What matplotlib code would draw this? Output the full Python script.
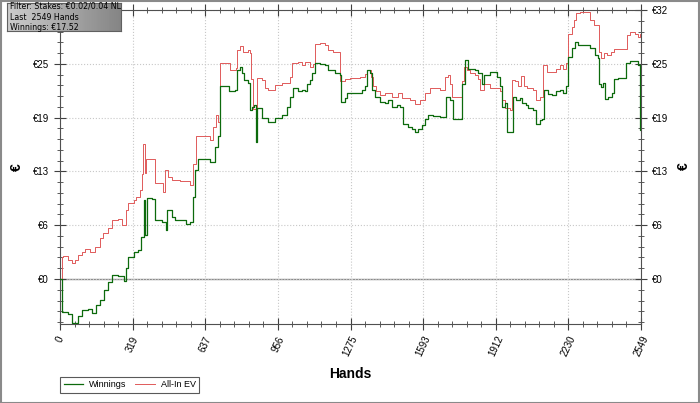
import numpy as np
import matplotlib
matplotlib.use('Agg')
import matplotlib.pyplot as plt
from matplotlib.ticker import FixedLocator, MultipleLocator
from matplotlib.patches import Rectangle

# Cumulative winnings (step points: hand number, euros)
win_hands = [0, 7, 35, 53, 79, 97, 123, 140, 158, 175, 193, 211, 228, 254, 281, 290, 298,
             325, 342, 355, 368, 375, 382, 404, 417, 447, 465, 469, 491, 505, 553, 570, 583,
             592, 605, 658, 680, 693, 702, 741, 768, 776, 790, 798, 807, 825, 834, 842, 851,
             858, 864, 886, 913, 943, 974, 996, 1009, 1022, 1044, 1062, 1075, 1084, 1097,
             1106, 1119, 1141, 1163, 1176, 1206, 1228, 1233, 1250, 1259, 1325, 1338, 1347,
             1360, 1369, 1382, 1404, 1426, 1439, 1456, 1478, 1492, 1505, 1527, 1544, 1557,
             1571, 1588, 1601, 1614, 1636, 1667, 1693, 1711, 1724, 1755, 1764, 1777, 1790,
             1821, 1834, 1851, 1860, 1886, 1917, 1930, 1939, 1952, 1961, 1987, 2000, 2018,
             2027, 2044, 2053, 2075, 2088, 2106, 2115, 2123, 2141, 2158, 2176, 2194, 2207,
             2220, 2229, 2246, 2259, 2273, 2325, 2347, 2360, 2365, 2373, 2382, 2391, 2404,
             2422, 2430, 2448, 2483, 2501, 2536, 2545, 2549]
win_vals = [0.0, -3.9, -4.1, -5.2, -4.3, -3.65, -3.5, -4.0, -3.1, -2.5, -1.3, -0.3, 0.5, 0.3,
            -0.2, 1.3, 2.6, 3.2, 3.4, 5.0, 9.3, 5.2, 9.5, 9.4, 6.9, 6.7, 5.8, 8.1, 7.3, 6.9,
            6.5, 6.75, 9.7, 12.8, 14.1, 13.8, 15.6, 16.8, 22.7, 22.1, 22.3, 24.6, 25.0, 24.3,
            23.4, 23.1, 19.9, 20.3, 20.5, 16.2, 20.1, 19.0, 18.5, 19.0, 19.3, 20.3, 21.5,
            22.5, 22.1, 22.3, 22.1, 23.0, 23.4, 24.3, 25.4, 25.3, 25.2, 24.6, 24.3, 24.0,
            20.9, 21.3, 21.9, 22.3, 22.7, 24.6, 24.3, 22.3, 21.5, 20.9, 20.7, 21.1, 20.3,
            20.5, 20.3, 18.3, 17.9, 17.7, 17.3, 17.7, 18.1, 18.9, 19.3, 19.2, 19.1, 21.5,
            21.1, 18.9, 18.8, 23.0, 25.8, 24.8, 24.6, 24.3, 23.0, 24.0, 24.4, 23.8, 22.8,
            20.3, 20.7, 17.3, 21.5, 21.1, 21.3, 20.7, 20.5, 20.1, 19.9, 18.3, 18.7, 18.9,
            22.3, 21.8, 21.7, 22.1, 22.3, 21.9, 22.7, 26.2, 27.2, 27.95, 27.6, 27.2, 26.4,
            26.0, 23.0, 22.6, 23.1, 21.2, 21.4, 21.9, 23.6, 23.7, 25.4, 25.7, 25.2, 17.52,
            17.52]

# All-in adjusted EV
ev_hands = [0, 7, 13, 35, 53, 66, 79, 97, 110, 132, 154, 175, 189, 211, 228, 254, 272, 290,
            298, 325, 333, 351, 360, 364, 373, 377, 417, 452, 461, 474, 491, 526, 570, 583,
            596, 658, 671, 684, 693, 702, 746, 772, 776, 790, 803, 825, 834, 838, 847, 864,
            886, 900, 913, 943, 974, 1009, 1018, 1044, 1062, 1075, 1097, 1110, 1119, 1141,
            1163, 1176, 1197, 1228, 1250, 1272, 1316, 1338, 1347, 1364, 1373, 1386, 1404,
            1426, 1456, 1483, 1500, 1536, 1557, 1579, 1601, 1623, 1667, 1689, 1702, 1711,
            1720, 1764, 1772, 1786, 1799, 1821, 1834, 1843, 1860, 1886, 1930, 1939, 1952,
            1974, 1983, 1996, 2009, 2022, 2036, 2049, 2075, 2088, 2106, 2119, 2136, 2176,
            2194, 2207, 2220, 2229, 2246, 2255, 2264, 2281, 2325, 2343, 2365, 2373, 2387,
            2400, 2417, 2430, 2487, 2501, 2523, 2536, 2545, 2549]
ev_vals = [0.0, 2.6, 2.7, 2.2, 1.85, 2.2, 2.8, 3.2, 3.5, 3.2, 3.8, 4.8, 5.4, 6.0, 6.9, 7.1,
           6.4, 8.1, 8.9, 9.3, 9.7, 10.5, 12.4, 15.9, 12.5, 14.1, 11.3, 10.3, 12.8, 12.0,
           11.7, 11.5, 11.1, 13.6, 16.8, 16.4, 17.9, 19.3, 18.5, 25.4, 24.6, 24.9, 27.0,
           27.4, 26.8, 27.0, 26.6, 23.6, 20.0, 23.7, 23.4, 22.5, 22.3, 22.9, 23.1, 23.8,
           25.4, 25.6, 25.2, 25.6, 25.0, 25.3, 27.7, 27.8, 27.6, 27.0, 26.8, 23.3, 23.6,
           23.7, 23.8, 24.2, 24.6, 23.8, 22.7, 22.1, 21.7, 21.9, 21.5, 21.9, 21.3, 21.1,
           20.6, 21.1, 21.9, 22.5, 22.3, 23.8, 24.0, 23.0, 21.5, 23.3, 25.0, 24.6, 24.3,
           24.0, 23.6, 22.3, 23.0, 22.5, 22.1, 21.1, 20.1, 19.9, 23.5, 23.3, 22.8, 23.9,
           22.8, 22.5, 22.3, 21.1, 21.5, 25.2, 24.4, 24.8, 25.2, 24.8, 25.4, 28.9, 29.7,
           30.5, 31.3, 31.5, 30.5, 29.9, 26.8, 26.0, 26.6, 26.4, 26.8, 27.1, 28.7, 29.1,
           28.9, 28.5, 28.9, 28.9]

x_ticks = [0, 319, 637, 956, 1275, 1593, 1912, 2230, 2549]
y_top = 31.7
y_tick_labels = ['€0', '€6', '€13', '€19', '€25', '€32']
info_lines = ['Filter: Stakes: €0.02/0.04 NL', 'Last  2549 Hands', 'Winnings: €17.52']

plt.rcParams['font.family'] = ['Liberation Sans', 'DejaVu Sans']

W, H = 700, 403
fig = plt.figure(figsize=(W / 100, H / 100), dpi=100)
ax = fig.add_axes([60 / W, 1 - 324 / H, 581 / W, 314 / H])

ax.step(win_hands, win_vals, where='post', color='#0c6a0c', lw=0.9, label='Winnings', zorder=3)
ax.step(ev_hands, ev_vals, where='post', color='#e05a5a', lw=0.7, label='All-In EV', zorder=2)
ax.axhline(0, color='#8a8a8a', lw=1.0, zorder=1)

ax.set_xlim(0, 2549)
ax.set_ylim(-5.3, y_top)

y_ticks = np.linspace(0, y_top, len(y_tick_labels))
ax.yaxis.set_major_locator(FixedLocator(y_ticks))
ax.set_yticklabels(y_tick_labels)
ax.yaxis.set_minor_locator(MultipleLocator(y_top / 25))
ax.xaxis.set_major_locator(FixedLocator(x_ticks))
ax.set_xticklabels([str(t) for t in x_ticks], rotation=65, ha='center', va='top')
ax.xaxis.set_minor_locator(MultipleLocator(2549 / 40))

ax.grid(True, which='major', color='#c8c8c8', ls=':', lw=0.8)
for sp in ax.spines.values():
    sp.set_color('#505050')

ax.tick_params(which='both', direction='inout', colors='#404040', labelcolor='black',
               top=True, right=True, labelright=True, labelsize=7)
ax.tick_params(which='major', length=9)
ax.tick_params(which='minor', length=5)
ax.tick_params(axis='x', pad=3)
# the top left label sits under the info box
ax.yaxis.get_major_ticks()[-1].label1.set_visible(False)

ax.set_xlabel('Hands', fontsize=10, fontweight='bold', labelpad=6)
ax.set_ylabel('€', fontsize=10, fontweight='bold', labelpad=6)
# same axis title on the right side
fig.text(684 / W, 1 - 166 / H, '€', fontsize=10, fontweight='bold', rotation=90,
         ha='center', va='center')

leg = ax.legend(loc='upper left', bbox_to_anchor=(0, -0.168), borderaxespad=0, ncol=2,
                fontsize=6.5, frameon=True, fancybox=False, edgecolor='#303030',
                borderpad=0.4, handlelength=2.2, columnspacing=1.0, handletextpad=0.6)
leg.get_frame().set_linewidth(0.8)

# info box in the top left corner
bx = fig.add_axes([7 / W, 1 - 31 / H, 114 / W, 28 / H])
grad = np.linspace(0.8, 0.52, 64)[None, :] * np.ones((8, 1))
bx.imshow(grad, cmap='gray', vmin=0, vmax=1, aspect='auto', extent=(0, 1, 0, 1))
bx.set_xticks([])
bx.set_yticks([])
for sp in bx.spines.values():
    sp.set_color('#606060')
bx.text(0.025, 0.5, '\n'.join(info_lines), fontsize=5.7, family='DejaVu Sans',
        va='center', ha='left', linespacing=1.25, transform=bx.transAxes)

# outer frame of the picture
fig.patches.append(Rectangle((0.001, 0.001), 0.997, 0.996, transform=fig.transFigure,
                             fill=False, edgecolor='#8a8a8a', lw=1.5))

fig.savefig('out.png', dpi=100)
